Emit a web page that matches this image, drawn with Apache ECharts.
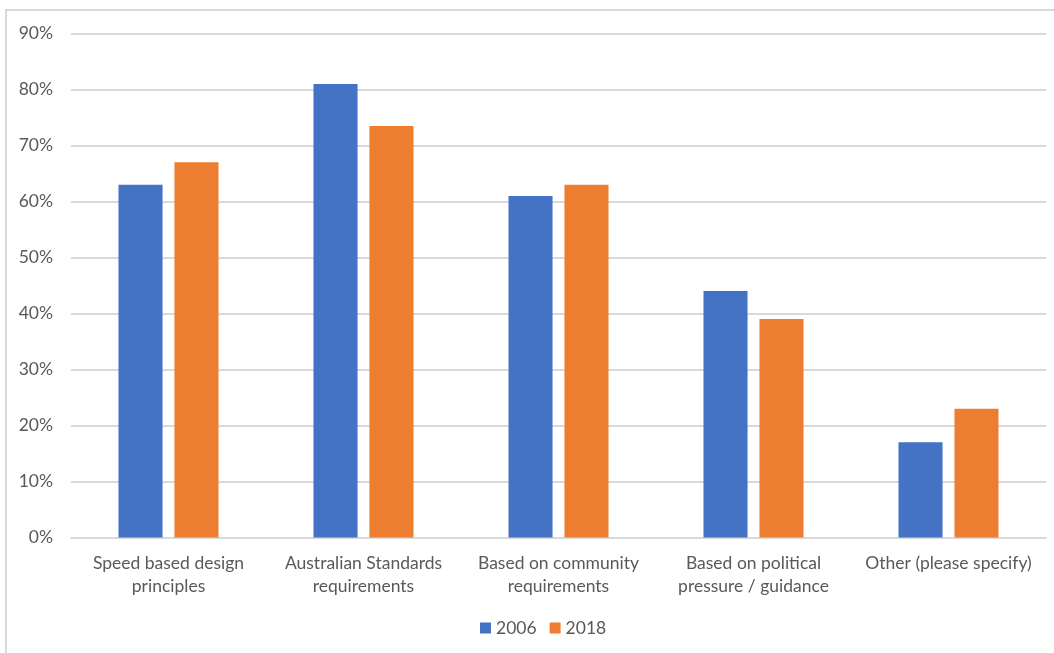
<!DOCTYPE html>
<html>
<head>
<meta charset="utf-8">
<script src="https://cdn.jsdelivr.net/npm/echarts@6/dist/echarts.min.js"></script>
<style>
  html, body { margin: 0; padding: 0; background: #fff; }
  #frame { position: absolute; left: 5px; top: 9px; width: 1060px; height: 660px;
           border-top: 2px solid #d9d9d9; border-left: 2px solid #d9d9d9; }
  #chart { position: absolute; left: 0; top: 0; width: 1054px; height: 653px; }
</style>
</head>
<body>
<div id="frame"></div>
<div id="chart"></div>
<script>
// Reasons for setting speed limits, share of responses by survey year
const categories = [
  'Speed based design\nprinciples',
  'Australian Standards\nrequirements',
  'Based on community\nrequirements',
  'Based on political\npressure / guidance',
  'Other (please specify)'
];
const seriesNames = ['2006', '2018'];
const values2006 = [63, 81, 61, 44, 17];
const values2018 = [67, 73.5, 63, 39, 23];
const yTicks = [0, 10, 20, 30, 40, 50, 60, 70, 80, 90];

const textColor = '#595959';
const fontFamily = 'Lato, "Open Sans", sans-serif';
const fontSize = 17.5;

const chart = echarts.init(document.getElementById('chart'), null, { renderer: 'canvas' });
chart.setOption({
  animation: false,
  textStyle: { fontFamily: fontFamily },
  color: ['#4472c4', '#ed7d31'],
  grid: { left: 71, right: 8, top: 33.5, bottom: 115.5, containLabel: false },
  legend: {
    data: seriesNames,
    bottom: 11,
    left: 475,
    itemWidth: 11,
    itemHeight: 11,
    itemGap: 13,
    icon: 'rect',
    textStyle: { color: textColor, fontSize: fontSize, fontFamily: fontFamily }
  },
  xAxis: {
    type: 'category',
    data: categories,
    axisLine: { show: true, lineStyle: { color: '#d9d9d9', width: 2 } },
    axisTick: { show: false },
    axisLabel: { color: textColor, fontSize: fontSize, lineHeight: 23, margin: 14, interval: 0, fontFamily: fontFamily }
  },
  yAxis: {
    type: 'value',
    min: yTicks[0],
    max: yTicks[yTicks.length - 1],
    interval: 10,
    axisLine: { show: false },
    axisTick: { show: false },
    splitLine: { lineStyle: { color: '#d9d9d9', width: 2 } },
    axisLabel: { color: textColor, fontSize: fontSize, margin: 18, formatter: v => v + '%', fontFamily: fontFamily }
  },
  series: [
    { name: seriesNames[0], type: 'bar', data: values2006, barWidth: '22.6%', barGap: '27%' },
    { name: seriesNames[1], type: 'bar', data: values2018, barWidth: '22.6%', barGap: '27%' }
  ]
});
</script>
</body>
</html>
